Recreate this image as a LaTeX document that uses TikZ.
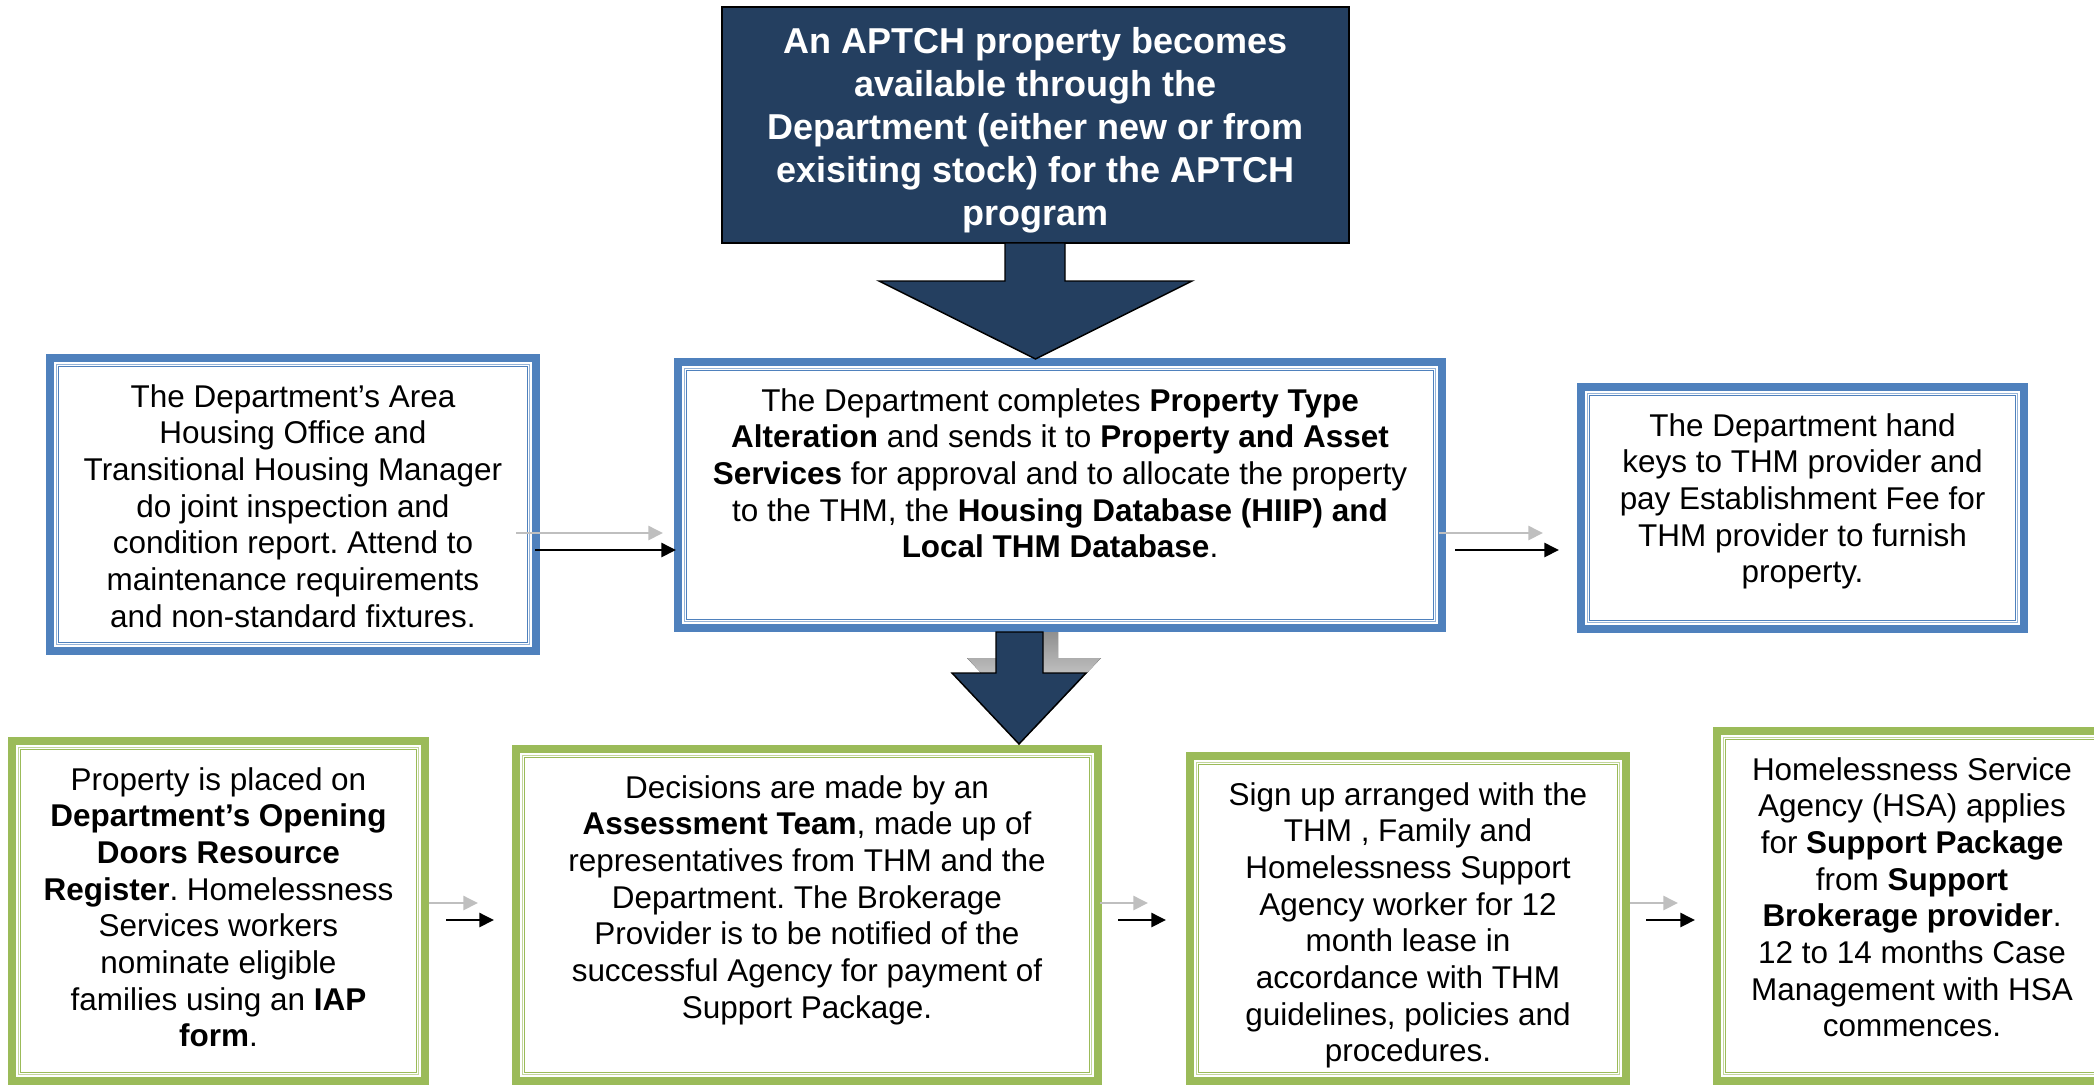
\documentclass[tikz,border=0pt]{standalone}
\usepackage{fontspec}
\setmainfont{Liberation Sans}
\usetikzlibrary{arrows.meta}
\frenchspacing

\definecolor{navy}{HTML}{243F60}
\definecolor{frameblue}{HTML}{4F81BD}
\definecolor{lineblue}{HTML}{95B3D7}
\definecolor{framegreen}{HTML}{9BBB59}
\definecolor{linegreen}{HTML}{C3D69B}
\definecolor{shade}{HTML}{BFBFBF}

\tikzset{
  framebox/.style={draw=#1, line width=6pt, fill=white, inner sep=0pt, outer sep=0pt},
  bodytext/.style={anchor=north, inner sep=0pt, align=center,
    font=\fontsize{23.6pt}{27.5pt}\selectfont},
  headtext/.style={anchor=north, inner sep=0pt, align=center, text=white,
    font=\fontsize{27pt}{32.3pt}\selectfont\bfseries},
  flowtip/.style={-{Triangle[length=11pt,width=10.5pt]}},
  flowpale/.style={flowtip, draw=shade, line width=1.9pt},
  flowdark/.style={flowtip, draw=black, line width=1.9pt},
  blockarrow/.style={fill=navy, draw=black, line width=1.1pt, line join=miter},
}

% framed box: name, outer corners (x1,y1) (x2,y2) in px, frame colour, inner line colour
\newcommand\flowframe[7]{%
  \node[framebox=#6, minimum width={(#4-#2-8)*0.75pt}, minimum height={(#5-#3-8)*0.75pt}]
    (#1) at ({(#2+#4)/2},{(#3+#5)/2}) {};
  \draw[#7, line width=1.05pt] ([shift={(5pt,-5pt)}]#1.north west) rectangle ([shift={(-5pt,5pt)}]#1.south east);
  \draw[#6, line width=1.3pt] ([shift={(6.3pt,-6.3pt)}]#1.north west) rectangle ([shift={(-6.3pt,6.3pt)}]#1.south east);
}

\begin{document}
\begin{tikzpicture}[x=0.75pt, y=-0.75pt]
\useasboundingbox (0,0) rectangle (2094,1085);
\clip (0,0) rectangle (2094,1085);

% shadow of the lower block arrow
\fill[shade] (1011,618) -- (1011,658) -- (967,658) -- (1034,729) -- (1101,658) -- (1058,658) -- (1058,618) -- cycle;

% starting event
\node[fill=navy, draw=black, line width=0.8pt, inner sep=0pt, outer sep=0pt,
      minimum width={627*0.75pt}, minimum height={236*0.75pt}] (start) at (1035.5,125) {};
\node[headtext] (startt) at (1035.5,27) {An APTCH property becomes\\available through the\\Department (either new or from\\exisiting stock) for the APTCH\\program};

% upper row
\flowframe{inspect}{46}{354}{540}{655}{frameblue}{lineblue}
\flowframe{alter}{674}{358}{1446}{632}{frameblue}{lineblue}
\flowframe{keys}{1577}{383}{2028}{633}{frameblue}{lineblue}

\node[bodytext] (inspectt) at (293,384) {The Department’s Area\\Housing Office and\\Transitional Housing Manager\\do joint inspection and\\condition report. Attend to\\maintenance requirements\\and non-standard fixtures.};
\node[bodytext] (altert) at (1060,388) {The Department completes \textbf{Property Type}\\\textbf{Alteration} and sends it to \textbf{Property and Asset}\\\textbf{Services} for approval and to allocate the property\\to the THM, the \textbf{Housing Database (HIIP) and}\\\textbf{Local THM Database}.};
\node[bodytext] (keyst) at (1802.5,413) {The Department hand\\keys to THM provider and\\pay Establishment Fee for\\THM provider to furnish\\property.};

% lower row
\flowframe{register}{8}{737}{429}{1085}{framegreen}{linegreen}
\flowframe{decide}{512}{745}{1102}{1085}{framegreen}{linegreen}
\flowframe{signup}{1186}{752}{1630}{1085}{framegreen}{linegreen}
\flowframe{support}{1713}{727}{2111}{1085}{framegreen}{linegreen}

\node[bodytext] (registert) at (218.5,767) {Property is placed on\\\textbf{Department’s Opening}\\\textbf{Doors Resource}\\\textbf{Register}. Homelessness\\Services workers\\nominate eligible\\families using an \textbf{IAP}\\\textbf{form}.};
\node[bodytext] (decidet) at (807,775) {Decisions are made by an\\\textbf{Assessment Team}, made up of\\representatives from THM and the\\Department. The Brokerage\\Provider is to be notified of the\\successful Agency for payment of\\Support Package.};
\node[bodytext] (signupt) at (1408,782) {Sign up arranged with the\\THM , Family and\\Homelessness Support\\Agency worker for 12\\month lease in\\accordance with THM\\guidelines, policies and\\procedures.};
\node[bodytext] (supportt) at (1912,757) {Homelessness Service\\Agency (HSA) applies\\for \textbf{Support Package}\\from \textbf{Support}\\\textbf{Brokerage provider}.\\12 to 14 months Case\\Management with HSA\\commences.};

% block arrows
\draw[blockarrow] (1005,243) -- (1005,281) -- (879,281) -- (1035.5,359) -- (1192,281) -- (1065,281) -- (1065,243) -- cycle;
\draw[blockarrow] (996,632) -- (996,673) -- (952,673) -- (1019,744) -- (1086,673) -- (1043,673) -- (1043,632) -- cycle;

% ends of the small connectors
\coordinate (p1a) at (516,533);  \coordinate (p1b) at (663,533);
\coordinate (d1a) at (535,550);  \coordinate (d1b) at (676,550);
\coordinate (p2a) at (1439,533); \coordinate (p2b) at (1543,533);
\coordinate (d2a) at (1455,550); \coordinate (d2b) at (1559,550);
\coordinate (p3a) at (429,903);  \coordinate (p3b) at (478,903);
\coordinate (d3a) at (446,920);  \coordinate (d3b) at (494,920);
\coordinate (p4a) at (1100,903); \coordinate (p4b) at (1148,903);
\coordinate (d4a) at (1118,920); \coordinate (d4b) at (1166,920);
\coordinate (p5a) at (1630,903); \coordinate (p5b) at (1678,903);
\coordinate (d5a) at (1646,920); \coordinate (d5b) at (1695,920);

\foreach \k in {1,...,5} {
  \draw[flowpale] (p\k a) -- (p\k b);
  \draw[flowdark] (d\k a) -- (d\k b);
}
\end{tikzpicture}
\end{document}
